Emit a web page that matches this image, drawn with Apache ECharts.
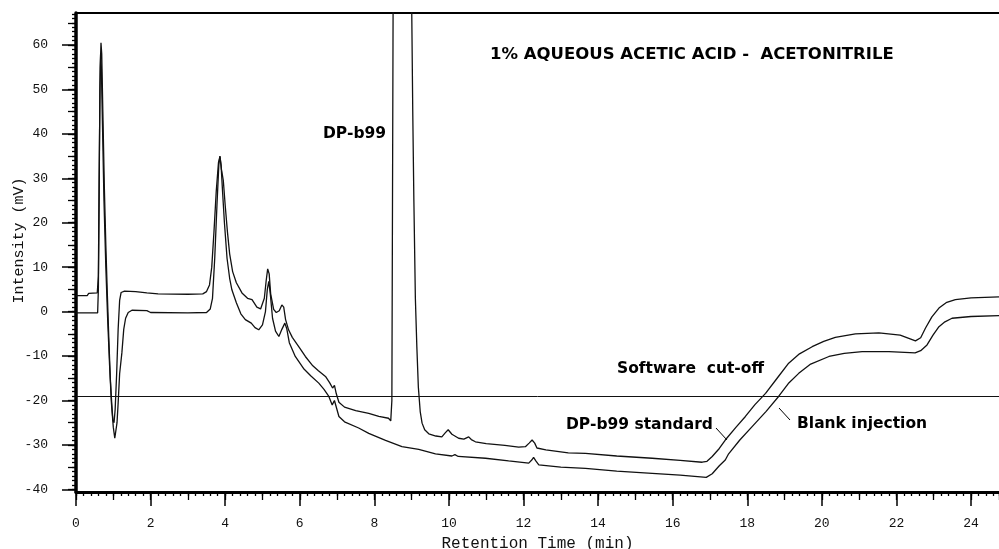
<!DOCTYPE html>
<html>
<head>
<meta charset="utf-8">
<script src="https://cdn.jsdelivr.net/npm/echarts@6/dist/echarts.min.js"></script>
<style>
html, body { margin: 0; padding: 0; background: #fff; }
#chart { width: 999px; height: 549px; }
</style>
</head>
<body>
<div id="chart"></div>
<script>
// DP-b99 standard trace (upper)
var stdTime = [0, 0.3, 0.34, 0.57, 0.6, 0.62, 0.65, 0.67, 0.69, 0.72, 0.76, 0.8, 0.84, 0.88, 0.92, 0.96, 0.99, 1.02, 1.05, 1.09, 1.13, 1.17, 1.21, 1.3, 1.6, 1.9, 2.2, 3.0, 3.4, 3.5, 3.58, 3.64, 3.7, 3.76, 3.82, 3.86, 3.9, 3.95, 4.0, 4.06, 4.12, 4.2, 4.3, 4.45, 4.6, 4.72, 4.85, 4.95, 5.05, 5.1, 5.14, 5.18, 5.22, 5.3, 5.37, 5.45, 5.52, 5.57, 5.62, 5.7, 5.8, 6.0, 6.15, 6.35, 6.5, 6.69, 6.8, 6.88, 6.93, 6.98, 7.05, 7.2, 7.5, 7.85, 8.12, 8.38, 8.44, 8.47, 8.5, 8.55, 8.75, 8.95, 9.0, 9.03, 9.06, 9.1, 9.14, 9.18, 9.23, 9.28, 9.35, 9.46, 9.65, 9.81, 9.9, 9.98, 10.08, 10.26, 10.4, 10.53, 10.6, 10.71, 11.0, 11.5, 11.87, 12.05, 12.15, 12.23, 12.3, 12.36, 12.6, 13.2, 13.66, 14.5, 15.45, 16.2, 16.79, 16.92, 17.06, 17.25, 17.41, 17.7, 17.95, 18.2, 18.49, 18.8, 19.11, 19.4, 19.74, 20.05, 20.36, 20.9, 21.53, 22.1, 22.51, 22.65, 22.78, 22.95, 23.14, 23.35, 23.58, 24.0, 24.75];
var stdSignal = [3.6, 3.6, 4.1, 4.2, 8, 30, 55, 60.5, 58, 45, 28, 15, 4, -6, -15, -21, -24.5, -25, -22, -14, -4, 2.5, 4.3, 4.6, 4.5, 4.2, 4.0, 3.9, 4.0, 4.5, 6, 10, 18, 27, 33.5, 34.9, 32, 29.5, 24, 18, 13, 9, 6.5, 4.2, 3.0, 2.7, 1.0, 0.6, 3, 7, 9.6, 8.5, 4, 0.5, -0.2, 0.2, 1.5, 1.0, -1.8, -4.1, -5.8, -8.2, -10.1, -12.2, -13.3, -14.6, -16, -17.2, -16.6, -18.5, -20.4, -21.5, -22.3, -22.9, -23.6, -24.0, -24.6, -20, 60, 200, 300, 150, 70, 45, 25, 3, -8, -17, -22.5, -25.1, -26.6, -27.5, -28.0, -28.2, -27.3, -26.6, -27.6, -28.5, -28.7, -28.2, -28.8, -29.3, -29.7, -30.1, -30.5, -30.4, -29.6, -28.9, -29.6, -30.7, -31.1, -31.8, -31.9, -32.5, -33.0, -33.5, -33.9, -33.7, -32.6, -30.8, -28.9, -26.0, -23.6, -21.0, -18.4, -15.0, -11.6, -9.5, -7.9, -6.7, -5.8, -5.0, -4.8, -5.3, -6.6, -5.9, -3.7, -1.2, 0.8, 2.1, 2.7, 3.1, 3.3];

// Blank injection trace (lower)
var blankTime = [0, 0.58, 0.6, 0.62, 0.64, 0.66, 0.68, 0.71, 0.75, 0.8, 0.85, 0.9, 0.95, 1.0, 1.04, 1.07, 1.1, 1.13, 1.17, 1.23, 1.28, 1.33, 1.4, 1.5, 1.9, 2.0, 3.0, 3.5, 3.6, 3.66, 3.72, 3.78, 3.83, 3.86, 3.89, 3.93, 3.98, 4.05, 4.12, 4.18, 4.3, 4.42, 4.54, 4.7, 4.8, 4.9, 5.0, 5.08, 5.13, 5.17, 5.21, 5.27, 5.35, 5.44, 5.52, 5.6, 5.65, 5.72, 5.88, 6.1, 6.3, 6.51, 6.65, 6.78, 6.87, 6.93, 6.98, 7.05, 7.2, 7.58, 7.85, 8.3, 8.74, 9.19, 9.64, 10.08, 10.16, 10.25, 10.98, 11.6, 12.14, 12.22, 12.27, 12.33, 12.41, 13.0, 13.66, 14.5, 15.45, 16.2, 16.9, 17.06, 17.25, 17.41, 17.5, 17.8, 18.13, 18.5, 18.84, 19.1, 19.38, 19.7, 20.19, 20.6, 21.08, 21.8, 22.5, 22.65, 22.82, 22.98, 23.14, 23.3, 23.49, 24.0, 24.75];
var blankSignal = [-0.3, -0.3, 5, 25, 50, 58, 55, 42, 25, 10, -2, -12, -20.6, -26, -28.5, -28.8, -25, -20.6, -14, -9.3, -4, -1.5, -0.2, 0.3, 0.2, -0.2, -0.3, -0.2, 0.6, 3, 12, 24, 33, 35, 33, 27, 20, 12, 7.5, 4.9, 2, -0.5, -1.8, -2.6, -3.6, -4.1, -3, 0, 5, 6.8, 4, -1.5, -4.4, -5.6, -4.0, -2.6, -3.8, -7, -10.1, -12.8, -14.5, -16.1, -17.5, -19.1, -21, -20, -20.3, -23.6, -24.8, -26.2, -27.4, -29.0, -30.4, -31.0, -32.0, -32.5, -32.2, -32.6, -33.0, -33.6, -34.1, -33.4, -32.8, -33.6, -34.5, -35.0, -35.3, -35.9, -36.4, -36.8, -37.3, -36.5, -34.7, -33.4, -32.0, -28.9, -25.9, -22.5, -19.1, -16.2, -13.9, -11.8, -10.1, -9.4, -9.0, -9.0, -9.3, -8.8, -7.5, -5.3, -3.4, -2.3, -1.5, -1.1, -0.9];

var cutoffLevel = -19;
var yTickLabels = [-40, -30, -20, -10, 0, 10, 20, 30, 40, 50, 60];

var Y_MIN = -40.6, Y_MAX = 67.2;
var X_MAX = 24.75;

function pairs(xs, ys) {
  var out = [];
  for (var i = 0; i < xs.length; i++) out.push([xs[i], ys[i]]);
  return out;
}
function steps(from, to, step) {
  var out = [];
  for (var v = from; v <= to + 1e-9; v += step) out.push(Math.round(v * 1000) / 1000);
  return out;
}

var monoFont = '"Liberation Mono", "DejaVu Sans Mono", monospace';
var boldFont = 'bold 15.5px "DejaVu Sans", sans-serif';
var titleFont = 'bold 16.5px "DejaVu Sans", sans-serif';

var myChart = echarts.init(document.getElementById('chart'), null, { renderer: 'canvas' });

function tickAxisY(values, len) {
  return {
    type: 'value', min: Y_MIN, max: Y_MAX, position: 'left',
    axisLine: { show: false, onZero: false }, splitLine: { show: false },
    axisLabel: { show: false },
    axisTick: { show: true, length: len, customValues: values, lineStyle: { color: '#000', width: 1.3 } }
  };
}
function tickAxisX(interval, len) {
  return {
    type: 'value', min: 0, max: X_MAX, interval: interval, position: 'bottom',
    axisLine: { show: false, onZero: false }, splitLine: { show: false },
    axisLabel: { show: false },
    axisTick: { show: true, length: len, lineStyle: { color: '#000', width: 1.3 } }
  };
}

myChart.setOption({
  animation: false,
  backgroundColor: '#fff',
  grid: { left: 76, right: 0, top: 13, bottom: 57, containLabel: false, outerBoundsMode: 'none' },
  xAxis: [
    {
      type: 'value', min: 0, max: X_MAX, interval: 2, position: 'bottom',
      name: 'Retention Time (min)', nameLocation: 'middle', nameGap: 44, nameMoveOverlap: false,
      nameTextStyle: { fontFamily: monoFont, fontSize: 16, color: '#111' },
      axisLine: { show: true, onZero: false, lineStyle: { color: '#000', width: 3 } },
      axisTick: { show: true, length: 14, lineStyle: { color: '#000', width: 1.5 } },
      axisLabel: { show: true, margin: 25, fontFamily: monoFont, fontSize: 13, color: '#111', showMaxLabel: false },
      splitLine: { show: false }
    },
    tickAxisX(1, 8),
    tickAxisX(0.2, 4),
    {
      type: 'value', min: 0, max: X_MAX, position: 'top',
      axisLine: { show: true, onZero: false, lineStyle: { color: '#000', width: 2 } },
      axisTick: { show: false }, axisLabel: { show: false }, splitLine: { show: false }
    }
  ],
  yAxis: [
    {
      type: 'value', min: Y_MIN, max: Y_MAX, position: 'left',
      name: 'Intensity (mV)', nameLocation: 'middle', nameGap: 49, nameRotate: 90, nameMoveOverlap: false,
      nameTextStyle: { fontFamily: monoFont, fontSize: 15, color: '#111', padding: [0, 0, 0, 24] },
      axisLine: { show: true, onZero: false, lineStyle: { color: '#000', width: 3.5 } },
      axisTick: { show: true, length: 14, customValues: yTickLabels, lineStyle: { color: '#000', width: 1.5 } },
      axisLabel: { show: true, margin: 28, customValues: yTickLabels, fontFamily: monoFont, fontSize: 13, color: '#111' },
      splitLine: { show: false }
    },
    tickAxisY(steps(-40, 65, 5), 8),
    tickAxisY(steps(-40, 67, 1), 4)
  ],
  series: [
    {
      name: 'DP-b99 standard', type: 'line', xAxisIndex: 0, yAxisIndex: 0,
      data: pairs(stdTime, stdSignal), showSymbol: false, symbol: 'none', clip: true,
      lineStyle: { color: '#111', width: 1.3 },
      markLine: {
        silent: true, symbol: ['none', 'none'], label: { show: false },
        lineStyle: { color: '#111', width: 1, type: 'solid' },
        data: [{ yAxis: cutoffLevel }]
      }
    },
    {
      name: 'Blank injection', type: 'line', xAxisIndex: 0, yAxisIndex: 0,
      data: pairs(blankTime, blankSignal), showSymbol: false, symbol: 'none', clip: true,
      lineStyle: { color: '#111', width: 1.3 }
    }
  ],
  graphic: [
    { type: 'text', x: 490, y: 55, style: { text: '1% AQUEOUS ACETIC ACID -  ACETONITRILE', font: titleFont, fill: '#000', verticalAlign: 'middle' } },
    { type: 'text', x: 323, y: 134, style: { text: 'DP-b99', font: boldFont, fill: '#000', verticalAlign: 'middle' } },
    { type: 'text', x: 617, y: 369, style: { text: 'Software  cut-off', font: boldFont, fill: '#000', verticalAlign: 'middle' } },
    { type: 'text', x: 566, y: 425, style: { text: 'DP-b99 standard', font: boldFont, fill: '#000', verticalAlign: 'middle' } },
    { type: 'text', x: 797, y: 424, style: { text: 'Blank injection', font: boldFont, fill: '#000', verticalAlign: 'middle' } },
    { type: 'line', shape: { x1: 716, y1: 428, x2: 727, y2: 440 }, style: { stroke: '#000', lineWidth: 1 } },
    { type: 'line', shape: { x1: 779, y1: 408, x2: 790, y2: 420 }, style: { stroke: '#000', lineWidth: 1 } }
  ]
});

window.addEventListener('resize', function () {
  myChart.resize();
});
</script>
</body>
</html>
